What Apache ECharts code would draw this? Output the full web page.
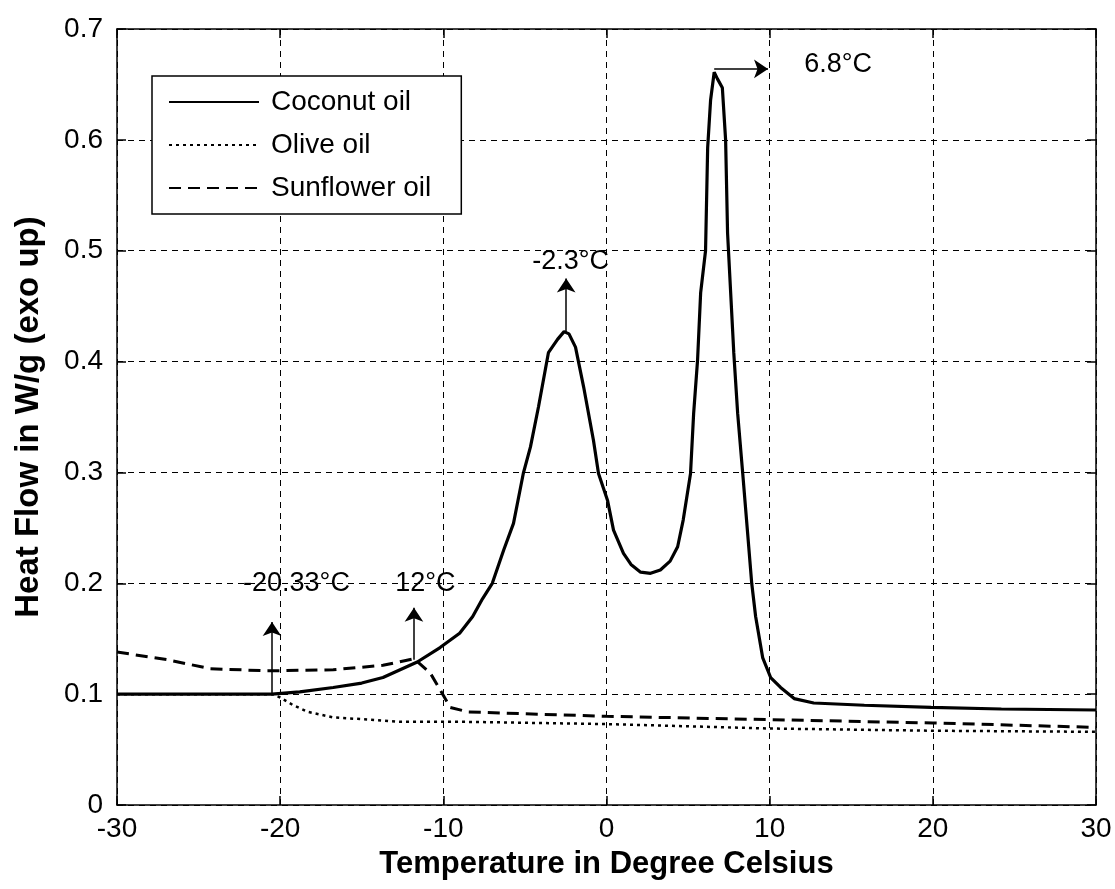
<!DOCTYPE html>
<html>
<head>
<meta charset="utf-8">
<script src="https://cdn.jsdelivr.net/npm/echarts@6/dist/echarts.min.js"></script>
<style>
html,body{margin:0;padding:0;background:#fff;}
#chart{width:1115px;height:889px;}
</style>
</head>
<body>
<div id="chart"></div>
<script>
// ---- Data ----
const coconutX = [-30,-25,-20.5,-18.8,-16.75,-15,-13.7,-11.6,-10.2,-9,-8.2,-7.6,-7.0,-6.3,-5.7,-5.1,-4.66,-4.17,-3.56,-3.0,-2.6,-2.3,-1.9,-1.4,-0.8,-0.49,0.06,0.43,1.04,1.5,2.09,2.7,3.3,3.9,4.36,4.7,5.15,5.34,5.58,5.77,6.07,6.2,6.38,6.6,6.8,7.1,7.3,7.42,7.8,8.04,8.35,8.65,8.9,9.14,9.57,10.06,10.67,11.5,12.7,15.8,19.9,24.2,30];
const coconutY = [0.1,0.1,0.1,0.102,0.106,0.11,0.115,0.129,0.142,0.155,0.17,0.186,0.2,0.23,0.254,0.299,0.323,0.359,0.408,0.42,0.427,0.425,0.413,0.377,0.329,0.299,0.275,0.248,0.227,0.217,0.21,0.209,0.212,0.22,0.233,0.257,0.299,0.353,0.401,0.462,0.5,0.593,0.636,0.661,0.655,0.647,0.6,0.516,0.408,0.353,0.299,0.245,0.2,0.17,0.133,0.115,0.106,0.096,0.092,0.09,0.088,0.0866,0.0857];

const oliveX = [-30,-25,-20.5,-20,-19.2,-18.3,-16.75,-14.5,-12.6,-8.5,0,10,20,30];
const oliveY = [0.1,0.1,0.1,0.097,0.09,0.084,0.079,0.077,0.075,0.075,0.073,0.069,0.067,0.066];

const sunflowerX = [-30,-26.9,-24.3,-20.8,-16.75,-13.7,-11.8,-10.8,-10.2,-9.57,-8.5,-6.5,0,10,20,30];
const sunflowerY = [0.138,0.131,0.123,0.121,0.122,0.126,0.132,0.119,0.104,0.088,0.084,0.083,0.08,0.077,0.074,0.07];

const seriesNames = ['Coconut oil','Olive oil','Sunflower oil'];

// arrows: start (x,y) -> end (x,y)
const arrowX1 = [-20.5,-11.8,-2.47,6.6];
const arrowY1 = [0.101,0.131,0.427,0.664];
const arrowX2 = [-20.5,-11.8,-2.47,9.9];
const arrowY2 = [0.165,0.178,0.475,0.664];

// annotation labels
const labelX = [-19.0,-11.1,-2.2,14.2];
const labelY = [0.2,0.2,0.4905,0.668];
const labelText = ['-20.33°C','12°C','-2.3°C','6.8°C'];

const xTicks = {min:-30,max:30,interval:10};
const yTicks = {min:0,max:0.7,interval:0.1};

// ---- Build chart ----
const FONT = '"Liberation Sans", Arial, Helvetica, sans-serif';
const zip = (xs, ys) => xs.map((x,i)=>[x,ys[i]]);

const chart = echarts.init(document.getElementById('chart'), null, {renderer:'canvas'});

const gridDash = {color:'#000', width:1, type:[6,5]};
const axLine = {show:true, onZero:false, lineStyle:{color:'#000', width:1.5}};
const axTick = {show:true, inside:true, length:9, lineStyle:{color:'#000', width:1.5}};

const option = {
  animation:false,
  backgroundColor:'#fff',
  grid:{left:117,right:19,top:29,bottom:84,containLabel:false,outerBoundsMode:'none'},
  legend:{
    data:seriesNames,
    orient:'vertical',
    left:152, top:76,
    padding:[12,30,12,16],
    itemWidth:90, itemHeight:28, itemGap:15,
    borderColor:'#000', borderWidth:1.5, backgroundColor:'#fff',
    itemStyle:{color:'rgba(0,0,0,0)', borderWidth:0, opacity:0},
    textStyle:{fontSize:28, fontFamily:FONT, color:'#000', padding:[0,0,0,7]}
  },
  xAxis:[{
    type:'value', position:'bottom', ...xTicks,
    name:'Temperature in Degree Celsius', nameLocation:'middle', nameGap:44,
    nameTextStyle:{fontSize:31, fontWeight:'bold', fontFamily:FONT, color:'#000'},
    axisLine:axLine, axisTick:axTick,
    axisLabel:{fontSize:28, fontFamily:FONT, color:'#000', margin:10},
    splitLine:{show:true, lineStyle:gridDash}
  },{
    type:'value', position:'top', ...xTicks,
    axisLine:axLine, axisTick:axTick,
    axisLabel:{show:false}, splitLine:{show:false}
  }],
  yAxis:[{
    type:'value', position:'left', ...yTicks,
    name:'Heat Flow in W/g (exo up)', nameLocation:'middle', nameGap:72, nameRotate:90,
    nameTextStyle:{fontSize:33, fontWeight:'bold', fontFamily:FONT, color:'#000'},
    axisLine:axLine, axisTick:axTick,
    axisLabel:{fontSize:28, fontFamily:FONT, color:'#000', margin:14},
    splitLine:{show:true, lineStyle:gridDash}
  },{
    type:'value', position:'right', ...yTicks,
    axisLine:axLine, axisTick:axTick,
    axisLabel:{show:false}, splitLine:{show:false}
  }],
  series:[
    {
      name:seriesNames[0], type:'line', data:zip(coconutX,coconutY),
      showSymbol:false, symbol:'none', z:5,
      lineStyle:{color:'#000', width:3.2, type:'solid'},
      itemStyle:{color:'#000'}
    },
    {
      name:seriesNames[1], type:'line', data:zip(oliveX,oliveY),
      showSymbol:false, symbol:'none', z:4,
      lineStyle:{color:'#000', width:2.5, type:[3,4]},
      itemStyle:{color:'#000'}
    },
    {
      name:seriesNames[2], type:'line', data:zip(sunflowerX,sunflowerY),
      showSymbol:false, symbol:'none', z:4,
      lineStyle:{color:'#000', width:3, type:[12,7]},
      itemStyle:{color:'#000'}
    },
    {
      name:'arrows', type:'line', data:[], z:6,
      itemStyle:{color:'#000'},
      markLine:{
        silent:true, animation:false,
        symbol:['none','arrow'], symbolSize:14,
        label:{show:false},
        itemStyle:{color:'#000'},
        lineStyle:{color:'#000', width:1.5, type:'solid'},
        data: arrowX1.map((x,i)=>[{coord:[x,arrowY1[i]]},{coord:[arrowX2[i],arrowY2[i]]}])
      },
      markPoint:{
        silent:true, animation:false,
        symbol:'circle', symbolSize:0,
        itemStyle:{color:'#000', opacity:1},
        label:{show:true, position:'inside', color:'#000', opacity:1,
          fontSize:27, fontFamily:FONT, textBorderWidth:0,
          formatter:p=>p.name},
        data: labelX.map((x,i)=>({name:labelText[i], coord:[x,labelY[i]]}))
      }
    }
  ]
};
chart.setOption(option);
</script>
</body>
</html>
